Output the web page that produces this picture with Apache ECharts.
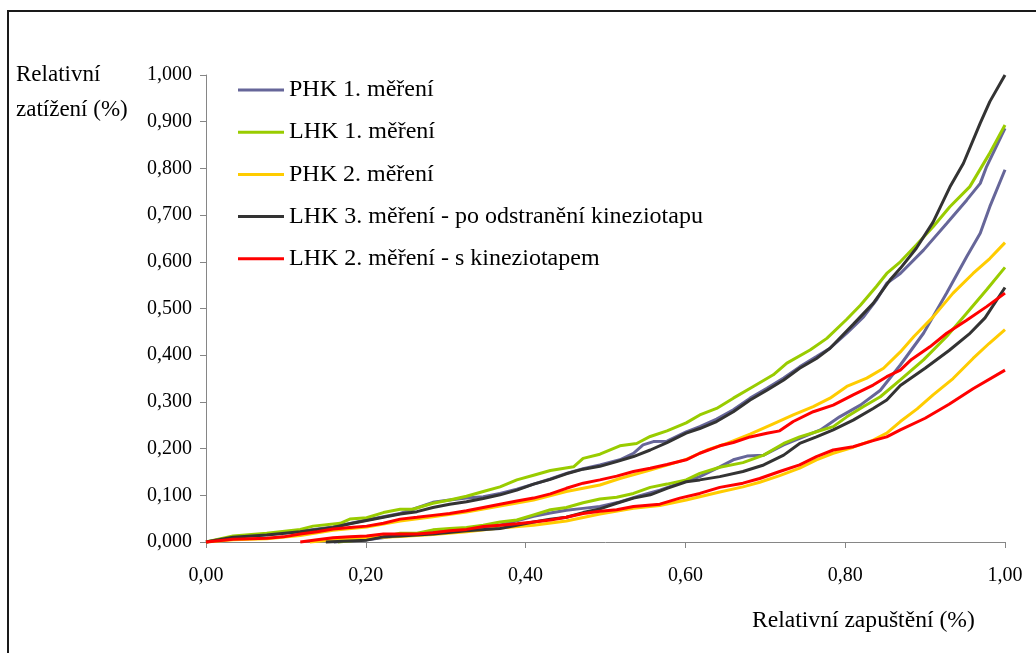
<!DOCTYPE html>
<html>
<head>
<meta charset="utf-8">
<script src="https://cdn.jsdelivr.net/npm/echarts@6/dist/echarts.min.js"></script>
<style>
  html, body { margin: 0; padding: 0; background: #fff; }
  #chart { width: 1036px; height: 653px; }
</style>
</head>
<body>
<div id="chart"></div>
<script>
// Legend names
const seriesNames = [
  'PHK 1. měření',
  'LHK 1. měření',
  'PHK 2. měření',
  'LHK 3. měření - po odstranění kineziotapu',
  'LHK 2. měření - s kineziotapem'
];
const seriesColors = ['#666699', '#99CC00', '#FFCC00', '#333333', '#FF0000'];

const xTicks = [0, 0.2, 0.4, 0.6, 0.8, 1.0];
const yTicks = [0, 0.1, 0.2, 0.3, 0.4, 0.5, 0.6, 0.7, 0.8, 0.9, 1.0];

// [relative depth, relative load] — upper and lower branch of each measurement
const phk1Upper = [[0,0],[0.034,0.011],[0.076,0.016],[0.118,0.023],[0.159,0.032],[0.201,0.047],[0.243,0.061],[0.284,0.085],[0.305,0.09],[0.326,0.094],[0.347,0.097],[0.368,0.104],[0.389,0.113],[0.41,0.124],[0.431,0.135],[0.451,0.147],[0.472,0.157],[0.493,0.165],[0.518,0.176],[0.535,0.19],[0.547,0.208],[0.56,0.215],[0.577,0.216],[0.601,0.236],[0.618,0.247],[0.639,0.263],[0.66,0.283],[0.681,0.308],[0.702,0.329],[0.723,0.351],[0.743,0.375],[0.764,0.397],[0.781,0.415],[0.802,0.447],[0.823,0.482],[0.839,0.518],[0.852,0.554],[0.869,0.575],[0.898,0.625],[0.927,0.682],[0.952,0.732],[0.969,0.768],[0.977,0.804],[1,0.886]];
const phk1Lower = [[0.16,0],[0.201,0.005],[0.243,0.014],[0.284,0.021],[0.326,0.028],[0.368,0.036],[0.41,0.055],[0.431,0.062],[0.451,0.068],[0.472,0.072],[0.493,0.076],[0.518,0.086],[0.543,0.099],[0.568,0.111],[0.593,0.126],[0.618,0.14],[0.643,0.161],[0.66,0.176],[0.677,0.184],[0.698,0.186],[0.723,0.208],[0.743,0.222],[0.769,0.24],[0.793,0.268],[0.819,0.293],[0.844,0.325],[0.869,0.379],[0.898,0.447],[0.927,0.533],[0.952,0.611],[0.969,0.661],[0.981,0.718],[1,0.797]];

const lhk1Upper = [[0,0],[0.034,0.013],[0.076,0.019],[0.118,0.027],[0.134,0.034],[0.168,0.04],[0.18,0.049],[0.201,0.052],[0.222,0.063],[0.243,0.07],[0.259,0.07],[0.284,0.083],[0.305,0.09],[0.326,0.098],[0.347,0.108],[0.368,0.118],[0.389,0.133],[0.41,0.143],[0.431,0.153],[0.46,0.161],[0.472,0.179],[0.493,0.188],[0.518,0.206],[0.539,0.211],[0.556,0.226],[0.577,0.238],[0.601,0.255],[0.618,0.272],[0.639,0.286],[0.66,0.308],[0.685,0.333],[0.71,0.358],[0.727,0.383],[0.756,0.411],[0.777,0.436],[0.802,0.477],[0.819,0.507],[0.839,0.547],[0.852,0.575],[0.869,0.6],[0.889,0.636],[0.91,0.675],[0.931,0.718],[0.956,0.761],[0.98,0.83],[1,0.893]];
const lhk1Lower = [[0.165,0],[0.18,0.002],[0.222,0.011],[0.243,0.019],[0.264,0.019],[0.284,0.026],[0.305,0.029],[0.326,0.031],[0.347,0.036],[0.368,0.043],[0.389,0.047],[0.41,0.058],[0.431,0.069],[0.451,0.074],[0.472,0.084],[0.493,0.092],[0.514,0.096],[0.535,0.104],[0.556,0.117],[0.577,0.124],[0.601,0.133],[0.618,0.147],[0.643,0.16],[0.672,0.17],[0.698,0.186],[0.723,0.211],[0.743,0.225],[0.764,0.236],[0.785,0.247],[0.802,0.268],[0.823,0.29],[0.844,0.311],[0.869,0.347],[0.898,0.39],[0.927,0.44],[0.952,0.49],[0.977,0.54],[1,0.588]];

const phk2Upper = [[0,0],[0.034,0.005],[0.076,0.007],[0.118,0.014],[0.159,0.025],[0.201,0.032],[0.243,0.045],[0.284,0.054],[0.326,0.064],[0.368,0.077],[0.41,0.09],[0.451,0.108],[0.472,0.115],[0.493,0.122],[0.518,0.136],[0.556,0.154],[0.601,0.177],[0.627,0.197],[0.652,0.211],[0.681,0.231],[0.71,0.253],[0.735,0.272],[0.76,0.29],[0.781,0.308],[0.802,0.333],[0.827,0.351],[0.848,0.372],[0.869,0.407],[0.886,0.44],[0.91,0.482],[0.935,0.533],[0.96,0.575],[0.981,0.607],[1,0.641]];
const phk2Lower = [[0.13,0],[0.159,0.005],[0.201,0.009],[0.243,0.012],[0.284,0.016],[0.326,0.022],[0.368,0.03],[0.41,0.036],[0.451,0.045],[0.493,0.06],[0.535,0.072],[0.568,0.078],[0.601,0.09],[0.643,0.107],[0.672,0.118],[0.693,0.128],[0.718,0.142],[0.743,0.158],[0.764,0.176],[0.785,0.19],[0.81,0.203],[0.835,0.218],[0.852,0.233],[0.869,0.258],[0.89,0.285],[0.91,0.315],[0.935,0.35],[0.96,0.393],[0.98,0.425],[1,0.455]];

const lhk3Upper = [[0,0],[0.034,0.01],[0.076,0.015],[0.118,0.022],[0.159,0.031],[0.18,0.039],[0.201,0.046],[0.222,0.053],[0.243,0.06],[0.264,0.065],[0.284,0.074],[0.305,0.081],[0.326,0.086],[0.347,0.093],[0.368,0.101],[0.389,0.111],[0.41,0.124],[0.431,0.134],[0.451,0.146],[0.472,0.156],[0.493,0.162],[0.514,0.172],[0.535,0.183],[0.556,0.197],[0.577,0.213],[0.601,0.233],[0.618,0.243],[0.639,0.258],[0.66,0.279],[0.681,0.304],[0.702,0.325],[0.723,0.347],[0.743,0.372],[0.764,0.393],[0.781,0.415],[0.81,0.466],[0.835,0.511],[0.856,0.561],[0.869,0.586],[0.889,0.629],[0.91,0.685],[0.931,0.76],[0.948,0.811],[0.969,0.897],[0.981,0.943],[1,1.0]];
const lhk3Lower = [[0.15,0],[0.201,0.004],[0.222,0.011],[0.243,0.013],[0.284,0.017],[0.326,0.024],[0.368,0.029],[0.41,0.043],[0.431,0.049],[0.451,0.053],[0.472,0.063],[0.493,0.071],[0.514,0.083],[0.535,0.094],[0.556,0.101],[0.577,0.115],[0.601,0.129],[0.618,0.133],[0.643,0.14],[0.672,0.151],[0.698,0.165],[0.723,0.186],[0.743,0.211],[0.764,0.225],[0.785,0.24],[0.81,0.261],[0.835,0.286],[0.852,0.304],[0.869,0.335],[0.9,0.372],[0.93,0.41],[0.955,0.445],[0.975,0.48],[1,0.545]];

const lhk2Upper = [[0,0],[0.034,0.006],[0.076,0.008],[0.097,0.011],[0.118,0.017],[0.139,0.022],[0.159,0.028],[0.18,0.031],[0.201,0.034],[0.222,0.04],[0.243,0.049],[0.264,0.053],[0.284,0.057],[0.305,0.061],[0.326,0.067],[0.347,0.074],[0.368,0.081],[0.389,0.088],[0.41,0.094],[0.431,0.103],[0.451,0.115],[0.472,0.126],[0.493,0.133],[0.514,0.141],[0.535,0.151],[0.556,0.158],[0.577,0.166],[0.601,0.176],[0.618,0.19],[0.643,0.206],[0.66,0.213],[0.681,0.225],[0.702,0.233],[0.718,0.238],[0.735,0.258],[0.76,0.279],[0.785,0.293],[0.81,0.315],[0.835,0.336],[0.852,0.354],[0.869,0.368],[0.883,0.391],[0.906,0.418],[0.927,0.447],[0.952,0.475],[0.977,0.504],[1,0.533]];
const lhk2Lower = [[0.118,0],[0.139,0.005],[0.159,0.009],[0.18,0.011],[0.201,0.013],[0.222,0.017],[0.264,0.017],[0.284,0.02],[0.305,0.024],[0.326,0.027],[0.347,0.033],[0.368,0.036],[0.389,0.039],[0.41,0.043],[0.431,0.047],[0.451,0.053],[0.472,0.061],[0.493,0.066],[0.514,0.069],[0.535,0.076],[0.568,0.081],[0.593,0.094],[0.618,0.104],[0.643,0.117],[0.672,0.126],[0.693,0.136],[0.718,0.151],[0.743,0.165],[0.764,0.183],[0.785,0.197],[0.81,0.204],[0.835,0.217],[0.852,0.225],[0.869,0.24],[0.9,0.265],[0.93,0.295],[0.96,0.328],[1,0.368]];

const branches = [
  [phk1Upper, phk1Lower],
  [lhk1Upper, lhk1Lower],
  [phk2Upper, phk2Lower],
  [lhk3Upper, lhk3Lower],
  [lhk2Upper, lhk2Lower]
];

const FONT = '"Liberation Serif", "Times New Roman", serif';

const series = [];
branches.forEach((pair, i) => {
  pair.forEach(data => {
    series.push({
      name: seriesNames[i],
      type: 'line',
      data: data,
      symbol: 'none',
      smooth: false,
      clip: false,
      lineStyle: { color: seriesColors[i], width: 3 },
      itemStyle: { color: seriesColors[i] },
      emphasis: { disabled: true }
    });
  });
});

const chart = echarts.init(document.getElementById('chart'), null, { renderer: 'canvas' });
chart.setOption({
  animation: false,
  backgroundColor: '#ffffff',
  grid: { left: 206, right: 31, top: 75, bottom: 111 },
  legend: {
    data: seriesNames,
    orient: 'vertical',
    left: 233,
    top: 73,
    icon: 'rect',
    itemWidth: 46,
    itemHeight: 3,
    itemGap: 18.2,
    textStyle: { fontFamily: FONT, fontSize: 24, lineHeight: 24, color: '#000' },
    selectedMode: false
  },
  xAxis: {
    type: 'value',
    min: 0,
    max: 1,
    interval: xTicks[1] - xTicks[0],
    axisLine: { show: true, lineStyle: { color: '#868686', width: 1 } },
    axisTick: { show: true, inside: false, length: 6, lineStyle: { color: '#868686' } },
    splitLine: { show: false },
    axisLabel: {
      margin: 24,
      fontFamily: FONT,
      fontSize: 20,
      color: '#000',
      formatter: v => v.toFixed(2).replace('.', ',')
    }
  },
  yAxis: {
    type: 'value',
    min: 0,
    max: 1,
    interval: yTicks[1] - yTicks[0],
    axisLine: { show: true, lineStyle: { color: '#868686', width: 1 } },
    axisTick: { show: true, inside: false, length: 6, lineStyle: { color: '#868686' } },
    splitLine: { show: false },
    axisLabel: {
      margin: 14,
      fontFamily: FONT,
      fontSize: 20,
      color: '#000',
      formatter: v => v.toFixed(3).replace('.', ',')
    }
  },
  graphic: [
    {
      type: 'rect',
      shape: { x: 8, y: 11, width: 1100, height: 700 },
      style: { fill: 'none', stroke: '#1a1a1a', lineWidth: 2 },
      silent: true
    },
    {
      type: 'text',
      left: 16,
      top: 63,
      style: { text: 'Relativní', font: '23px ' + FONT, fill: '#000' }
    },
    {
      type: 'text',
      left: 16,
      top: 98,
      style: { text: 'zatížení (%)', font: '23px ' + FONT, fill: '#000' }
    },
    {
      type: 'text',
      left: 752,
      top: 609,
      style: { text: 'Relativní zapuštění (%)', font: '23.6px ' + FONT, fill: '#000' }
    }
  ],
  series: series
});
</script>
</body>
</html>
